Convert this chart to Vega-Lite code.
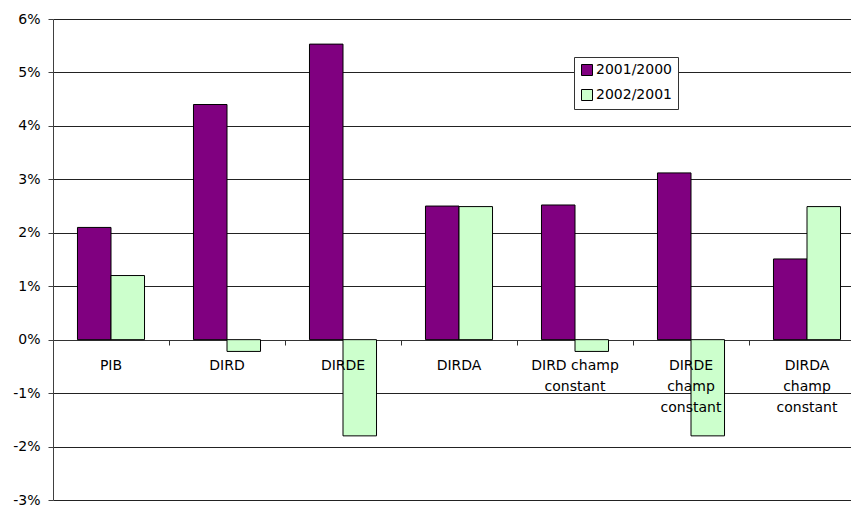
{
  "$schema": "https://vega.github.io/schema/vega-lite/v6.json",
  "width": 798,
  "height": 481,
  "autosize": {"type": "none"},
  "padding": {"left": 53, "top": 19, "right": 0, "bottom": 6},
  "background": "white",
  "config": {
    "view": {"stroke": null},
    "font": "DejaVu Sans",
    "axis": {"labelFont": "DejaVu Sans", "labelColor": "black"}
  },
  "datasets": {
    "growth": [
      {"cat": "PIB", "period": "2001/2000", "value": 0.021},
      {"cat": "PIB", "period": "2002/2001", "value": 0.012},
      {"cat": "DIRD", "period": "2001/2000", "value": 0.044},
      {"cat": "DIRD", "period": "2002/2001", "value": -0.0022},
      {"cat": "DIRDE", "period": "2001/2000", "value": 0.0553},
      {"cat": "DIRDE", "period": "2002/2001", "value": -0.018},
      {"cat": "DIRDA", "period": "2001/2000", "value": 0.025},
      {"cat": "DIRDA", "period": "2002/2001", "value": 0.0249},
      {"cat": "DIRD champ constant", "period": "2001/2000", "value": 0.0252},
      {"cat": "DIRD champ constant", "period": "2002/2001", "value": -0.0022},
      {"cat": "DIRDE champ constant", "period": "2001/2000", "value": 0.0312},
      {"cat": "DIRDE champ constant", "period": "2002/2001", "value": -0.018},
      {"cat": "DIRDA champ constant", "period": "2001/2000", "value": 0.0151},
      {"cat": "DIRDA champ constant", "period": "2002/2001", "value": 0.0249}
    ],
    "labels": [
      {"cat": "PIB", "lines": ["PIB"]},
      {"cat": "DIRD", "lines": ["DIRD"]},
      {"cat": "DIRDE", "lines": ["DIRDE"]},
      {"cat": "DIRDA", "lines": ["DIRDA"]},
      {"cat": "DIRD champ constant", "lines": ["DIRD champ", "constant"]},
      {"cat": "DIRDE champ constant", "lines": ["DIRDE", "champ", "constant"]},
      {"cat": "DIRDA champ constant", "lines": ["DIRDA", "champ", "constant"]}
    ]
  },
  "layer": [
    {
      "data": {"name": "growth"},
      "mark": {"type": "bar", "stroke": "black", "strokeWidth": 1},
      "encoding": {
        "x": {
          "field": "cat",
          "type": "nominal",
          "sort": null,
          "scale": {"range": [0, 812], "paddingInner": 0, "paddingOuter": 0},
          "axis": {
            "title": null,
            "labels": false,
            "ticks": true,
            "bandPosition": 0,
            "tickSize": 5,
            "tickColor": "#333",
            "domain": true,
            "domainColor": "#333",
            "offset": -160,
            "grid": false
          }
        },
        "xOffset": {
          "field": "period",
          "type": "nominal",
          "scale": {"paddingInner": 0, "paddingOuter": 0.73}
        },
        "y": {
          "field": "value",
          "type": "quantitative",
          "scale": {"domain": [-0.03, 0.06], "nice": false, "zero": false},
          "axis": {
            "title": null,
            "labelExpr": "round(datum.value * 100) + '%'",
            "values": [-0.03, -0.02, -0.01, 0, 0.01, 0.02, 0.03, 0.04, 0.05, 0.06],
            "labelFontSize": 14,
            "labelPadding": 8,
            "tickSize": 5,
            "tickColor": "#404040",
            "domainColor": "#404040",
            "grid": true,
            "gridColor": "#222",
            "gridWidth": 1
          }
        },
        "fill": {
          "field": "period",
          "type": "nominal",
          "scale": {"domain": ["2001/2000", "2002/2001"], "range": ["#800080", "#CCFFCC"]},
          "legend": {
            "title": null,
            "orient": "none",
            "legendX": 521,
            "legendY": 38,
            "direction": "vertical",
            "symbolType": "square",
            "symbolSize": 121,
            "symbolStrokeColor": "black",
            "symbolStrokeWidth": 1,
            "symbolOpacity": 1,
            "labelFontSize": 14,
            "labelFont": "DejaVu Sans",
            "labelColor": "black",
            "labelOffset": 2,
            "rowPadding": 9,
            "padding": 6,
            "strokeColor": "#333",
            "fillColor": "white"
          }
        }
      }
    },
    {
      "data": {"name": "labels"},
      "mark": {
        "type": "text",
        "baseline": "top",
        "align": "center",
        "dy": 19,
        "fontSize": 14,
        "lineHeight": 21,
        "font": "DejaVu Sans",
        "color": "black"
      },
      "encoding": {
        "x": {"field": "cat", "type": "nominal", "sort": null},
        "y": {"datum": 0, "type": "quantitative"},
        "text": {"field": "lines"}
      }
    }
  ]
}
